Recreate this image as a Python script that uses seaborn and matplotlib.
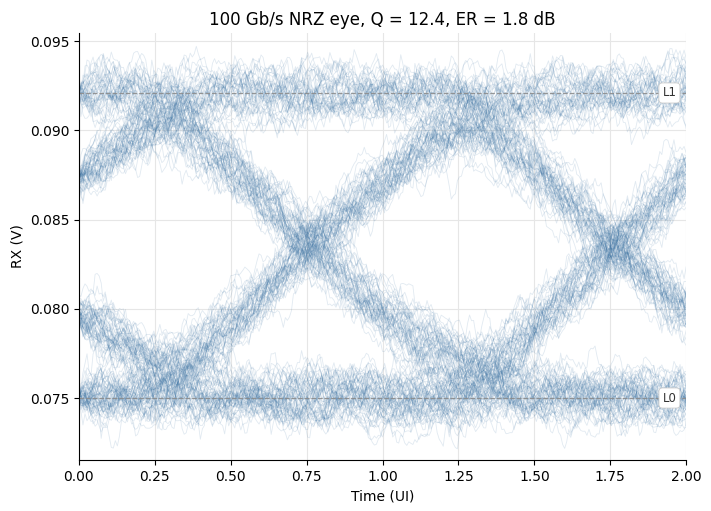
import numpy as np
import pandas as pd
import seaborn as sns
import matplotlib.pyplot as plt

# levels / timing
level_names = ["L0", "L1"]
level_values = [0.0750, 0.0921]
crossing_offset = 0.77      # UI position of the eye crossing
ramp_ui = 1.0               # 0-100 % edge duration (UI)
round_low = 0.06            # rounding of the edge start (UI)
round_high = 0.24           # rounding of the edge settling (UI)
noise_std = 0.00080         # vertical noise (V)
jitter_std = 0.024          # timing jitter (UI)
n_traces = 200
samples_per_ui = 150


def prbs9(n):
    # x^9 + x^5 + 1
    state = 0x1FF
    out = []
    for _ in range(n):
        new = ((state >> 8) ^ (state >> 4)) & 1
        state = ((state << 1) | new) & 0x1FF
        out.append(new)
    return out


def smooth_ramp(sig):
    kx = np.arange(-4 * sig, 4 * sig + dx, dx)
    kg = np.exp(-0.5 * (kx / sig) ** 2)
    n = len(kg)
    yp = np.pad(ramp, (n, n), mode="edge")
    return np.convolve(yp, kg / kg.sum())[n + n // 2:n + n // 2 + len(ramp)]


# edge shape: linear ramp, sharp start and slow settling
dx = 0.002
xg = np.arange(-3, 3, dx)
ramp = np.clip(xg / ramp_ui + 0.5, 0, 1)
s = np.where(xg < 0, smooth_ramp(round_low), smooth_ramp(round_high))


def edge(t):
    return np.interp(t, xg, s)


bits = prbs9(n_traces + 12)
rng = np.random.default_rng(5)
edge_jitter = rng.normal(0, jitter_std, len(bits))

t = np.linspace(0, 2, 2 * samples_per_ui + 1)
rows = []
for n in range(n_traces):
    start = n + 5
    T = start + t
    v = np.full_like(t, float(bits[start - 5]))
    for j in range(start - 4, start + 4):
        step = bits[j] - bits[j - 1]
        if step:
            tc = j - 1 + crossing_offset + edge_jitter[j]
            v += step * edge(T - tc)
    v = level_values[0] + (level_values[1] - level_values[0]) * v
    w = rng.normal(0, 1, len(t))
    ar = np.zeros_like(t)
    for i in range(1, len(t)):
        ar[i] = 0.93 * ar[i - 1] + w[i]
    ar = ar / ar.std() * noise_std
    rows.append(pd.DataFrame({"t": t, "v": v + ar, "trace": n}))
df = pd.concat(rows, ignore_index=True)

fig, ax = plt.subplots(figsize=(7.11, 5.11), dpi=100)
ax.grid(True, color="#e6e6e6", lw=0.8)
ax.set_axisbelow(True)

sns.lineplot(data=df, x="t", y="v", units="trace", estimator=None,
             color="#2f6a9e", alpha=0.14, lw=0.6, ax=ax, legend=False)

for name, val in zip(level_names, level_values):
    ax.axhline(val, color="#8c8c8c", lw=0.9, ls="--", alpha=0.9)
    ax.text(1.945, val, name, fontsize=8.5, ha="center", va="center", color="#333333",
            bbox=dict(boxstyle="round,pad=0.3", fc="white", ec="#cccccc", lw=0.6))

ax.set_xlim(0, 2)
ax.set_ylim(0.07153, 0.09545)
ax.set_xticks(np.arange(0, 2.01, 0.25))
ax.yaxis.set_major_formatter(plt.FormatStrFormatter("%.3f"))
ax.set_xlabel("Time (UI)")
ax.set_ylabel("RX (V)")
ax.set_title("100 Gb/s NRZ eye, Q = 12.4, ER = 1.8 dB")
sns.despine(ax=ax)

fig.subplots_adjust(left=0.111, right=0.965, top=0.935, bottom=0.1)
fig.savefig("out.png", dpi=100)
